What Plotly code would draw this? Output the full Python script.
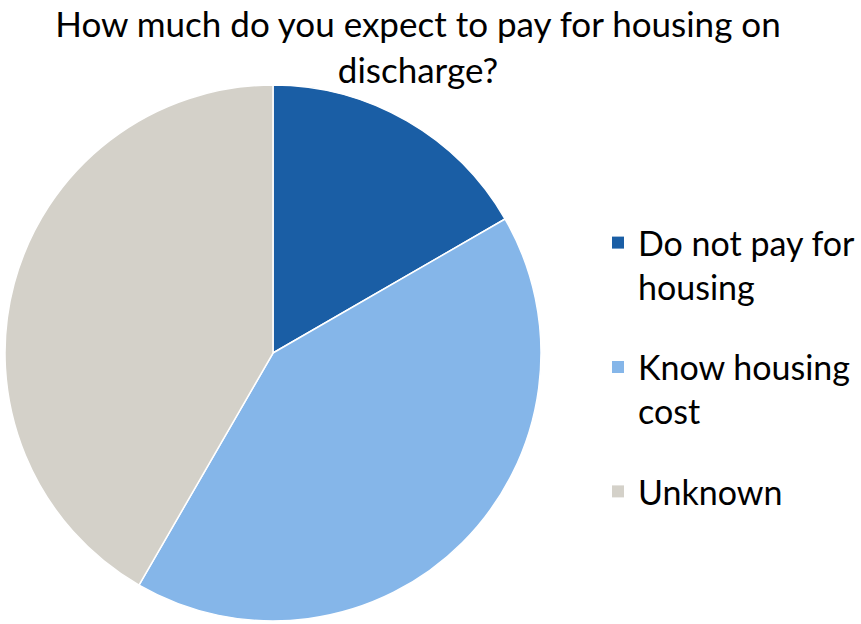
import plotly.graph_objects as go

# Survey responses: expected housing cost on discharge
labels = ["Do not pay for<br>housing", "Know housing<br>cost", "Unknown"]
values = [2, 5, 5]
colors = ["#1A5EA5", "#85B6E9", "#D4D1C9"]

title_text = "How much do you expect to pay for housing on<br>discharge?"
font_family = "Lato, Open Sans, sans-serif"

W, H = 861, 624

fig = go.Figure()

fig.add_trace(go.Pie(
    labels=labels,
    values=values,
    sort=False,
    direction="clockwise",
    rotation=0,
    marker=dict(colors=colors, line=dict(color="white", width=1.5)),
    textinfo="none",
    hoverinfo="label+percent",
    showlegend=False,
    domain=dict(x=[5 / W, 541 / W], y=[1 - 621 / H, 1 - 85 / H]),
))

# Legend entries (one group each so the entries can be spaced apart)
for i, (lab, col) in enumerate(zip(labels, colors)):
    fig.add_trace(go.Scatter(
        x=[None], y=[None],
        mode="markers",
        name=lab,
        legendgroup=f"g{i}",
        marker=dict(symbol="square", size=16, color=col),
        showlegend=True,
    ))

fig.update_layout(
    width=W, height=H,
    margin=dict(l=0, r=0, t=0, b=0),
    paper_bgcolor="white",
    plot_bgcolor="white",
    xaxis=dict(visible=False),
    yaxis=dict(visible=False),
    title=dict(
        text=title_text,
        x=418 / W, xanchor="center",
        y=0.94, yanchor="top",
        font=dict(family=font_family, size=35, color="#000000"),
    ),
    legend=dict(
        x=598 / W, xanchor="left",
        y=1 - 214 / H, yanchor="top",
        font=dict(family=font_family, size=34, color="#000000"),
        valign="top",
        tracegroupgap=33,
        itemsizing="constant",
        bgcolor="rgba(0,0,0,0)",
    ),
)

fig.write_html("out.html")
